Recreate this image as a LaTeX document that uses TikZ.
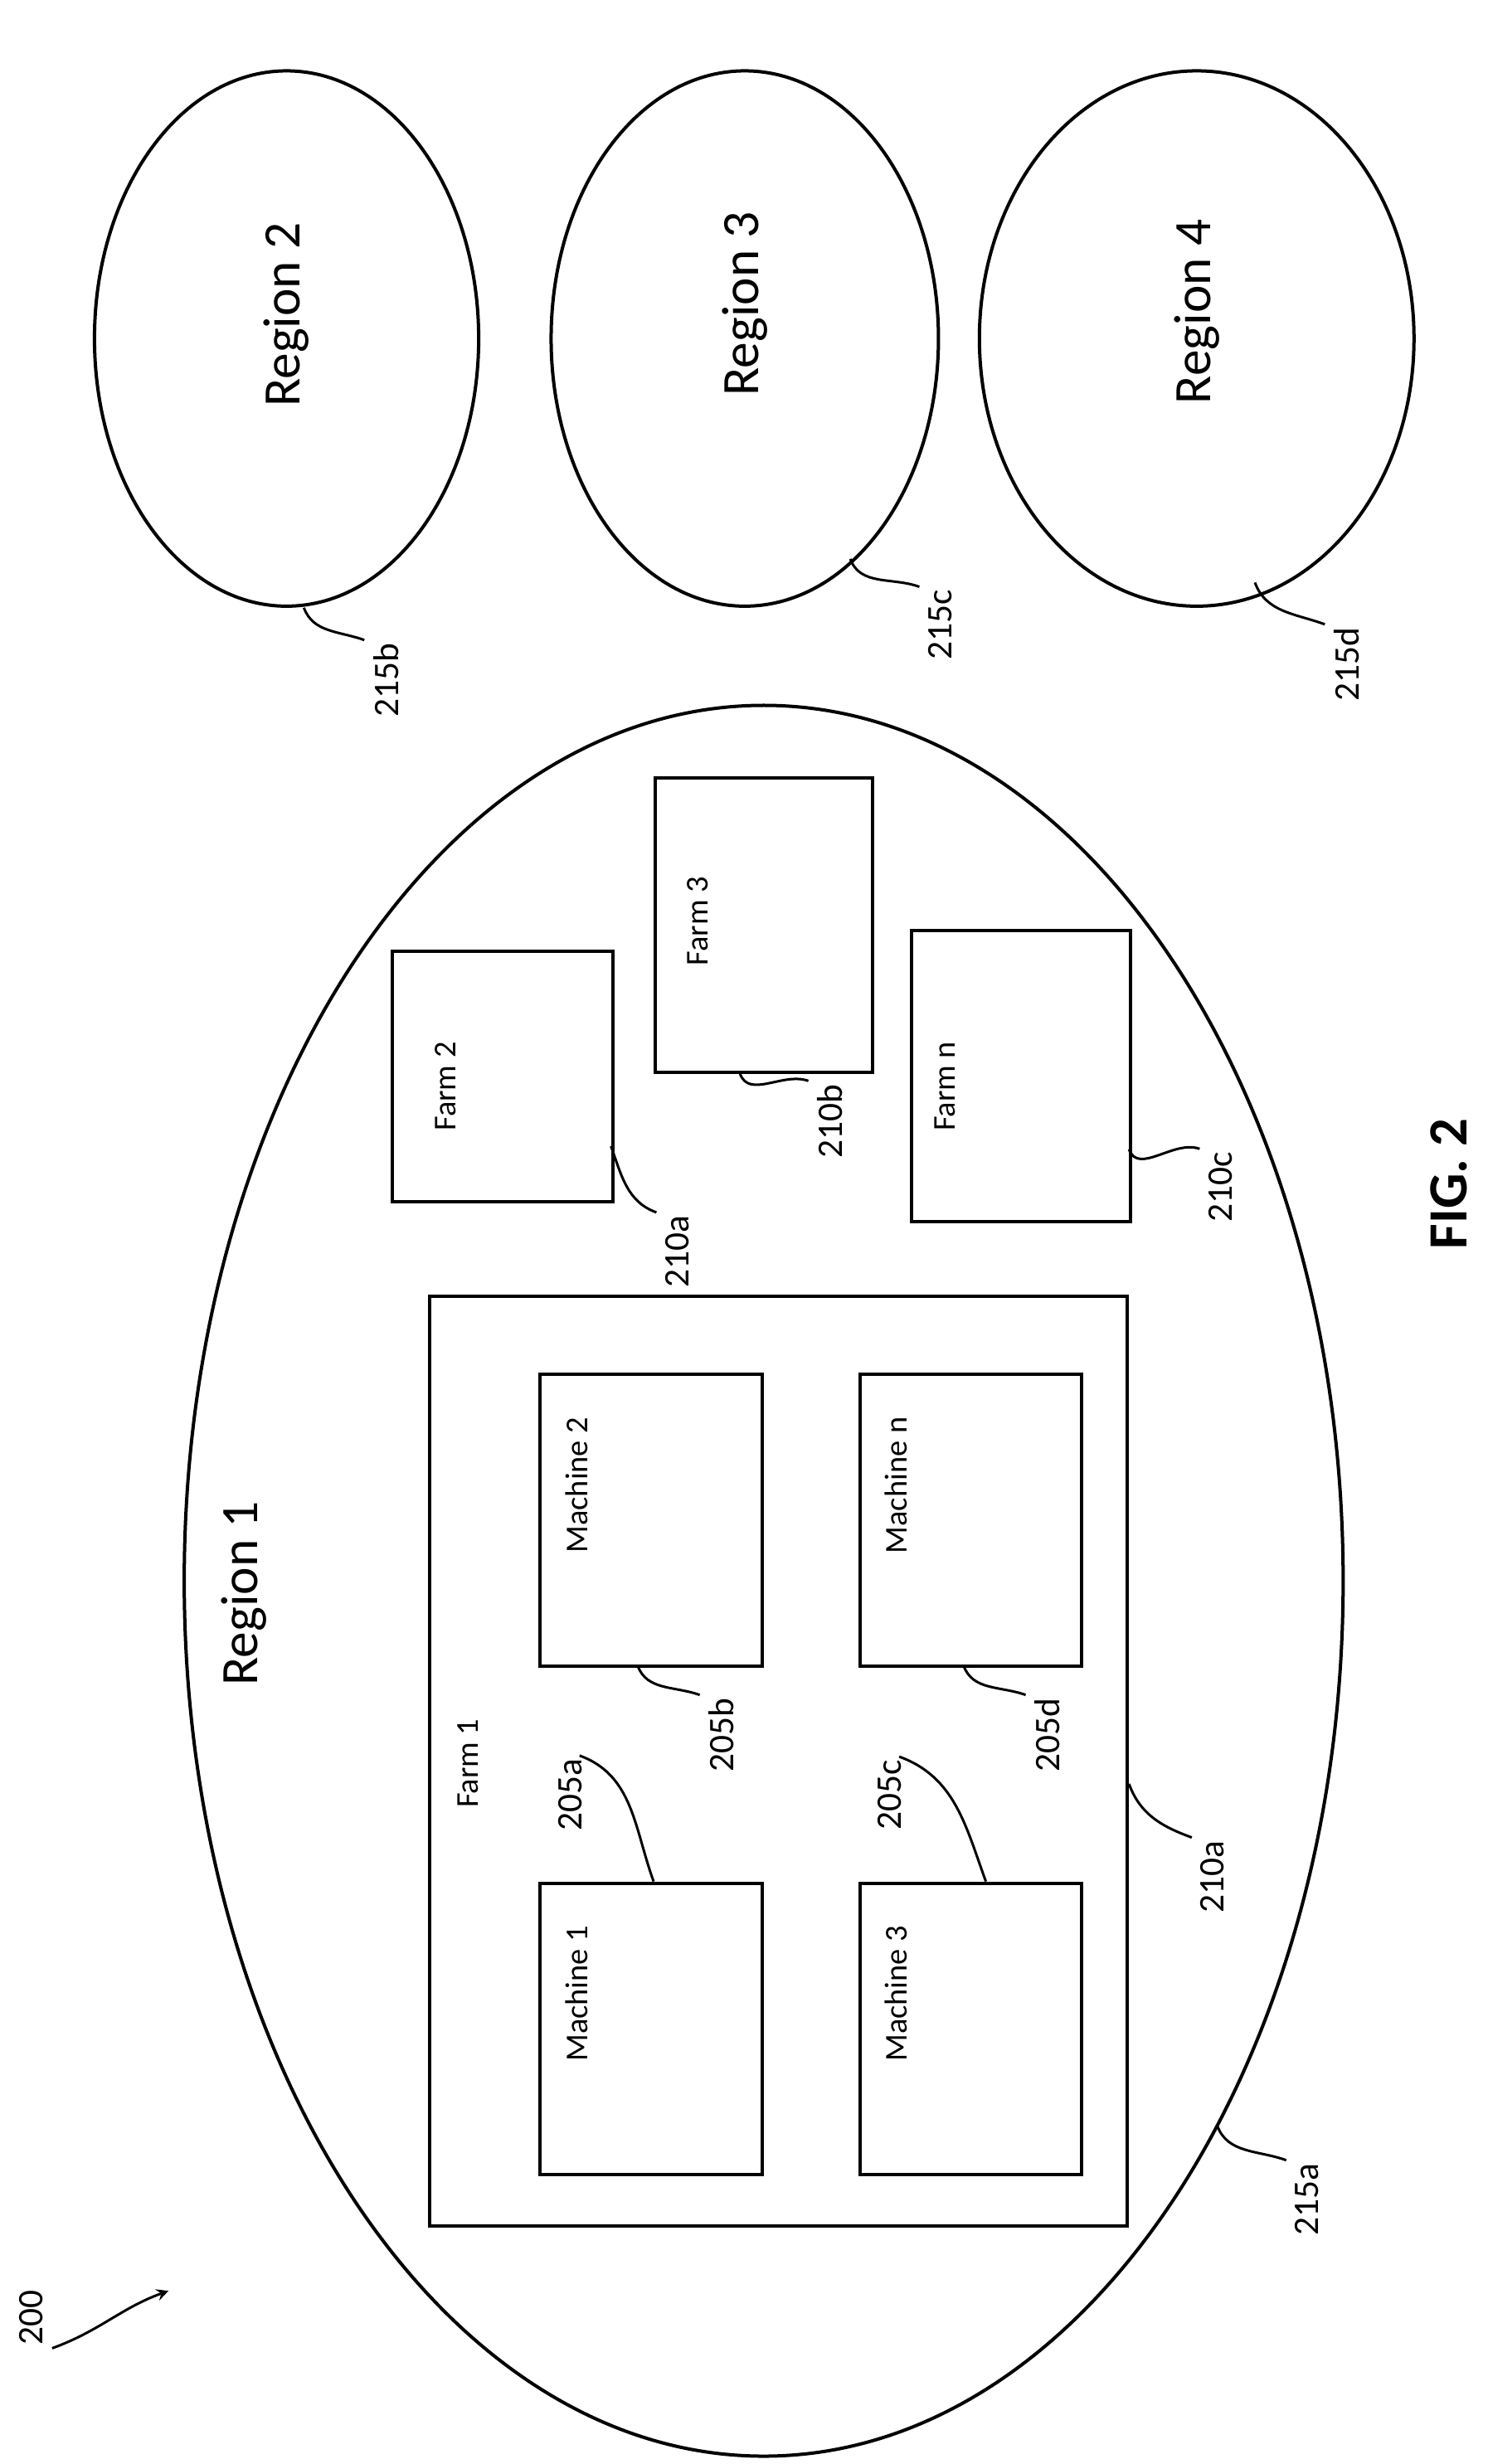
\documentclass[tikz,border=0pt]{standalone}
\usepackage{fontspec}
\setmainfont{Carlito}
\usetikzlibrary{positioning}
\tikzset{
  box/.style={draw,line width=1.2pt,anchor=north west,inner sep=0pt},
  big/.style={rotate=90,font=\fontsize{19}{22}\selectfont},
  lbl/.style={rotate=90,inner sep=1pt,font=\fontsize{13}{15}\selectfont},
  txt/.style={rotate=90,inner sep=1pt,font=\fontsize{11.5}{13}\selectfont},
  lead/.style={line width=0.9pt},
}
\newcommand{\leadto}[2]{\draw[lead] (#1) to[out=-70,in=160] ([xshift=-2pt]#2.north east);}
\begin{document}
\begin{tikzpicture}[x=0.02cm,y=0.02cm]
\useasboundingbox (0,0) rectangle (945,-1565);
% regions
\draw[line width=1.2pt] (182,-215) ellipse (122 and 170);
\draw[line width=1.2pt] (473,-215) ellipse (123 and 170);
\draw[line width=1.2pt] (760,-215) ellipse (138 and 170);
\draw[line width=1.2pt] (485,-1004) ellipse (368 and 556);
\node[big] (r2) at (182,-200) {Region 2};
\node[big] (r3) at (473,-193) {Region 3};
\node[big] (r4) at (760,-198) {Region 4};
\node[big] (r1) at (155,-1012) {Region 1};
%
% farms
\node[box,minimum width=140*0.02cm,minimum height=159*0.02cm] (f2) at (248,-603) {};
\node[box,minimum width=138*0.02cm,minimum height=187*0.02cm] (f3) at (415,-493) {};
\node[box,minimum width=139*0.02cm,minimum height=185*0.02cm] (fn) at (578,-590) {};
\node[box,minimum width=443*0.02cm,minimum height=591*0.02cm] (f1) at (272,-822) {};
\node[txt] at (283,-690) {Farm 2};
\node[txt] at (443,-585) {Farm 3};
\node[txt] at (600,-690) {Farm n};
\node[txt] at (297,-1120) {Farm 1};
%
% machines
\foreach \nm/\x/\y/\t in {m2/342/872/Machine 2,mn/545/872/Machine n,m1/342/1195/Machine 1,m3/545/1195/Machine 3}{
  \node[box,minimum width=141*0.02cm,minimum height=185*0.02cm] (\nm) at (\x,-\y) {};
  \node[txt,anchor=east] at (\x+24,-\y-26) {\t};
}
%
% reference numerals
\node[lbl] (l215b) at (245,-432) {215b};
\node[lbl] (l215c) at (597,-397) {215c};
\node[lbl] (l215d) at (855,-422) {215d};
\node[lbl] (l210a) at (430,-795) {210a};
\node[lbl] (l210b) at (527,-712) {210b};
\node[lbl] (l210c) at (775,-754) {210c};
\node[lbl] (l205b) at (458,-1102) {205b};
\node[lbl] (l205d) at (665,-1102) {205d};
\node[lbl] (l205a) at (362,-1140) {205a};
\node[lbl] (l205c) at (565,-1140) {205c};
\node[lbl] (l210x) at (770,-1192) {210a};
\node[lbl] (l215a) at (830,-1397) {215a};
\node[lbl] (l200) at (20,-1472) {200};
\node[rotate=90,font=\bfseries\fontsize{20}{24}\selectfont] (fig) at (920,-752) {FIG. 2};
%
\leadto{193,-386}{l215b}
\leadto{540,-355}{l215c}
\leadto{797,-370}{l215d}
\leadto{388,-728}{l210a}
\leadto{470,-682}{l210b}
\leadto{717,-730}{l210c}
\leadto{405,-1058}{l205b}
\leadto{612,-1058}{l205d}
\leadto{717,-1133}{l210x}
\leadto{773,-1350}{l215a}
\draw[lead] (m1.north east) ++(-70,0) to[out=110,in=-20] ([xshift=-2pt]l205a.south east);
\draw[lead] (m3.north east) ++(-62,0) to[out=110,in=-20] ([xshift=-2pt]l205c.south east);
\draw[lead,-stealth] ([xshift=2pt]l200.south west) to[out=20,in=200] (107,-1455);
\end{tikzpicture}
\end{document}
